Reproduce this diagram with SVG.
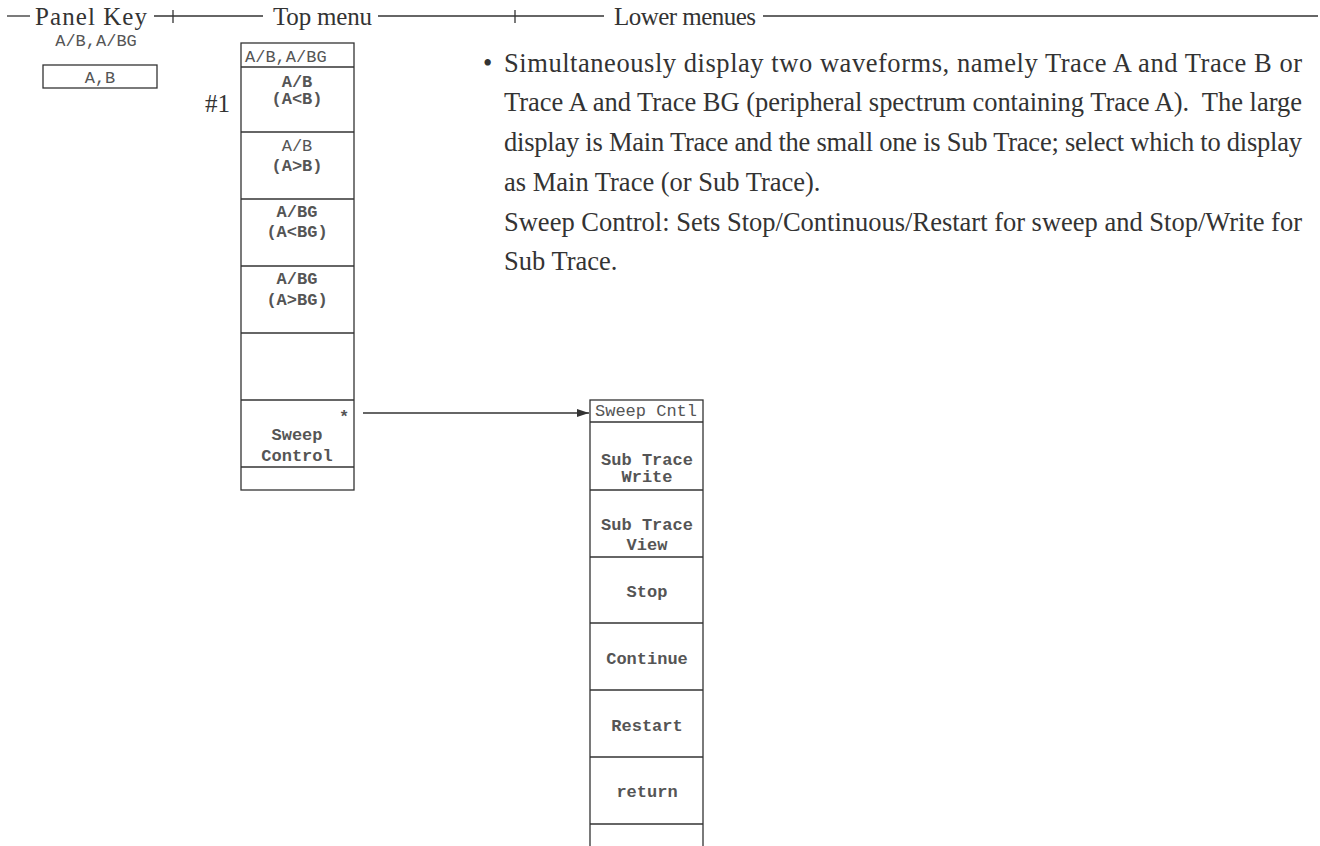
<svg xmlns="http://www.w3.org/2000/svg" width="1320" height="846" viewBox="0 0 1320 846">
<style>
.ln{stroke:#333;stroke-width:1.3;fill:none}
.bx{stroke:#333;stroke-width:1.3;fill:none}
.hd{font-family:"Liberation Serif","Times New Roman",serif;font-size:25px;fill:#333}
.pa{font-family:"Liberation Serif","Times New Roman",serif;font-size:26.5px;fill:#333}
.mo{font-family:"Liberation Mono","Courier New",monospace;font-size:17px;fill:#555}
.mb{font-family:"Liberation Mono","Courier New",monospace;font-size:17px;fill:#555;font-weight:bold;text-anchor:middle}
.mc{text-anchor:middle}
</style>
<defs>
<marker id="ah" viewBox="0 0 12 8" refX="12" refY="4" markerWidth="12" markerHeight="8" markerUnits="userSpaceOnUse" orient="auto">
<path d="M0,0 L12,4 L0,8 Z" fill="#333"/>
</marker>
</defs>
<rect width="1320" height="846" fill="#fff"/>
<g id="header">
<line class="ln" x1="7" y1="16" x2="30" y2="16"/>
<text class="hd" x="35" y="25" textLength="112" lengthAdjust="spacing">Panel Key</text>
<line class="ln" x1="154" y1="16" x2="263" y2="16"/>
<line class="ln" x1="173" y1="10" x2="173" y2="23"/>
<text class="hd" x="273" y="25" textLength="99" lengthAdjust="spacing">Top menu</text>
<line class="ln" x1="378" y1="16" x2="604" y2="16"/>
<line class="ln" x1="515" y1="10" x2="515" y2="23"/>
<text class="hd" x="614" y="25" textLength="142" lengthAdjust="spacing">Lower menues</text>
<line class="ln" x1="763" y1="16" x2="1318" y2="16"/>
</g>
<g id="panel-key">
<text class="mo mc" x="96" y="46">A/B,A/BG</text>
<rect class="bx" x="43" y="65" width="114" height="23"/>
<text class="mo mc" x="100" y="83">A,B</text>
</g>
<g id="top-menu">
<rect class="bx" x="241" y="43" width="113" height="447"/>
<line class="ln" x1="241" y1="67" x2="354" y2="67"/>
<line class="ln" x1="241" y1="132" x2="354" y2="132"/>
<line class="ln" x1="241" y1="199" x2="354" y2="199"/>
<line class="ln" x1="241" y1="266" x2="354" y2="266"/>
<line class="ln" x1="241" y1="333" x2="354" y2="333"/>
<line class="ln" x1="241" y1="400" x2="354" y2="400"/>
<line class="ln" x1="241" y1="467" x2="354" y2="467"/>
<text class="mo" x="245" y="62">A/B,A/BG</text>
<text class="mb" x="297" y="87">A/B</text>
<text class="mb" x="297" y="104">(A&lt;B)</text>
<text class="mo mc" x="297" y="151">A/B</text>
<text class="mb" x="297" y="171">(A&gt;B)</text>
<text class="mb" x="297" y="217">A/BG</text>
<text class="mb" x="297" y="237">(A&lt;BG)</text>
<text class="mb" x="297" y="284">A/BG</text>
<text class="mb" x="297" y="305">(A&gt;BG)</text>
<text class="mb" x="344" y="422">*</text>
<text class="mb" x="297" y="440">Sweep</text>
<text class="mb" x="297" y="461">Control</text>
</g>
<g id="label-1">
<text class="hd" x="205" y="112">#1</text>
</g>
<g id="description">
<text class="pa" x="483" y="72">•</text>
<text class="pa" x="504" y="72" textLength="798" lengthAdjust="spacing">Simultaneously display two waveforms, namely Trace A and Trace B or</text>
<text class="pa" x="504" y="111" textLength="798" lengthAdjust="spacing">Trace A and Trace BG (peripheral spectrum containing Trace A).&#160; The large</text>
<text class="pa" x="504" y="151" textLength="798" lengthAdjust="spacing">display is Main Trace and the small one is Sub Trace; select which to display</text>
<text class="pa" x="504" y="191">as Main Trace (or Sub Trace).</text>
<text class="pa" x="504" y="231" textLength="798" lengthAdjust="spacing">Sweep Control: Sets Stop/Continuous/Restart for sweep and Stop/Write for</text>
<text class="pa" x="504" y="270">Sub Trace.</text>
</g>
<g id="sweep-cntl-menu">
<rect class="bx" x="590" y="400" width="113" height="460"/>
<line class="ln" x1="590" y1="422" x2="703" y2="422"/>
<line class="ln" x1="590" y1="490" x2="703" y2="490"/>
<line class="ln" x1="590" y1="557" x2="703" y2="557"/>
<line class="ln" x1="590" y1="623" x2="703" y2="623"/>
<line class="ln" x1="590" y1="690" x2="703" y2="690"/>
<line class="ln" x1="590" y1="757" x2="703" y2="757"/>
<line class="ln" x1="590" y1="824" x2="703" y2="824"/>
<text class="mo" x="595" y="416">Sweep Cntl</text>
<text class="mb" x="647" y="465">Sub Trace</text>
<text class="mb" x="647" y="482">Write</text>
<text class="mb" x="647" y="530">Sub Trace</text>
<text class="mb" x="647" y="550">View</text>
<text class="mb" x="647" y="597">Stop</text>
<text class="mb" x="647" y="664">Continue</text>
<text class="mb" x="647" y="731">Restart</text>
<text class="mb" x="647" y="797">return</text>
</g>
<g id="connectors">
<line class="ln" x1="363" y1="413" x2="589" y2="413" marker-end="url(#ah)"/>
</g>
</svg>
